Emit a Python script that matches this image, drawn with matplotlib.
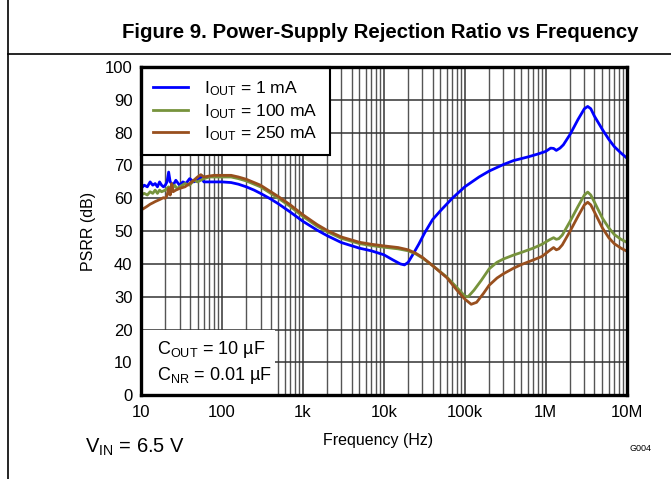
import matplotlib
matplotlib.use('Agg')
import matplotlib.pyplot as plt
from matplotlib.lines import Line2D
from matplotlib.patches import Rectangle

plt.rcParams['font.family'] = ['Liberation Sans', 'DejaVu Sans']
plt.rcParams['mathtext.fontset'] = 'custom'
plt.rcParams['mathtext.rm'] = 'Liberation Sans'
plt.rcParams['mathtext.it'] = 'Liberation Sans:italic'

# ---- data ----
f_1mA = [10, 11, 12, 13, 14, 15, 16, 17, 18, 19, 20, 21, 22, 23, 25, 27, 30, 33, 36, 40,
         45, 50, 55, 60, 70, 80, 100, 130, 160, 200, 250, 300, 400, 500, 700, 1e3, 1.5e3,
         2e3, 3e3, 5e3, 7e3, 1e4, 1.3e4, 1.6e4, 1.8e4, 2e4, 2.3e4, 2.7e4, 3.2e4, 4e4, 5e4,
         7e4, 1e5, 1.5e5, 2e5, 3e5, 4e5, 6e5, 8e5, 1e6, 1.15e6, 1.25e6, 1.35e6, 1.5e6,
         1.65e6, 2e6, 2.5e6, 3e6, 3.3e6, 3.6e6, 4e6, 5e6, 6e6, 7e6, 8.5e6, 1e7]
psrr_1mA = [63, 64, 63.5, 65, 64, 64.5, 63.5, 65, 64, 63.5, 64, 65, 68, 65, 64, 65.5, 64,
            65, 64.5, 66, 65, 65.5, 66.5, 65, 65, 65, 65, 64.8, 64.3, 63.5, 62.5, 61.5, 59.8,
            58.3, 55.8, 53, 50.3, 48.6, 46.5, 44.8, 44, 42.8, 41.2, 40, 39.7, 40.5, 43, 46,
            49.5, 53.5, 56.2, 60, 63.5, 66.5, 68.3, 70.3, 71.5, 72.6, 73.5, 74.3, 75.3, 75.2,
            74.6, 75.3, 76.3, 79.5, 84, 87.3, 88, 87.3, 85, 81, 78, 75.8, 73.8, 72.3]

f_100mA = [10, 11, 12, 13, 14, 15, 16, 17, 18, 20, 22, 24, 26, 28, 30, 35, 40, 45, 50, 60,
           70, 80, 100, 130, 160, 200, 300, 500, 700, 1e3, 1.5e3, 2e3, 3e3, 5e3, 7e3, 1e4,
           1.5e4, 2e4, 2.5e4, 3e4, 4e4, 6e4, 8e4, 1e5, 1.1e5, 1.3e5, 1.6e5, 2e5, 2.5e5, 3e5,
           4e5, 5e5, 7e5, 9e5, 1.1e6, 1.25e6, 1.35e6, 1.45e6, 1.6e6, 2e6, 2.5e6, 3e6, 3.3e6,
           3.6e6, 4e6, 5e6, 6e6, 7e6, 8.5e6, 1e7]
psrr_100mA = [61, 61.5, 61, 62, 61.5, 62.5, 61.5, 62.5, 62, 62.5, 63.5, 62.5, 64, 63, 63.5,
              64.5, 64, 65.5, 65, 66, 66.5, 66.5, 66.5, 66.5, 66, 65.3, 63.5, 60, 57.5, 54.5,
              51.5, 49.8, 47.8, 46.2, 45.6, 45.1, 44.6, 44, 43, 41.8, 39.5, 36, 32.8, 30.2,
              30, 32, 35, 38.5, 40.5, 41.5, 42.7, 43.5, 44.8, 46, 47.3, 48, 47.5, 47.7, 48.8,
              53, 57.5, 61, 61.9, 61, 58.8, 54, 51, 49, 47.5, 46.6]

f_250mA = [10, 11, 12, 13, 14, 15, 17, 19, 20, 21, 22, 23, 24, 25, 27, 30, 35, 40, 45, 50,
           55, 60, 70, 80, 100, 130, 160, 200, 300, 500, 700, 1e3, 1.5e3, 2e3, 3e3, 5e3, 7e3,
           1e4, 1.5e4, 2e4, 2.5e4, 3e4, 4e4, 6e4, 8e4, 1e5, 1.2e5, 1.4e5, 1.7e5, 2e5, 2.5e5,
           3e5, 4e5, 5e5, 7e5, 9e5, 1.1e6, 1.25e6, 1.35e6, 1.45e6, 1.6e6, 2e6, 2.5e6, 3e6,
           3.3e6, 3.6e6, 4e6, 5e6, 6e6, 7e6, 8.5e6, 1e7]
psrr_250mA = [56.4, 57, 57.6, 58.2, 58.6, 59, 59.6, 60.2, 60, 60.8, 63, 61, 64.5, 62, 62.5,
              63, 63.5, 64.5, 65.5, 66.5, 67.2, 66.5, 66.8, 67, 67, 67, 66.5, 65.8, 64, 60.5,
              58, 55, 52, 50.2, 48.2, 46.6, 46, 45.5, 45, 44.3, 43.2, 42, 39.5, 35.8, 32,
              29.3, 27.7, 28.3, 31, 33.5, 35.7, 37, 38.7, 39.8, 41.2, 42.3, 44, 45, 44.3,
              44.6, 45.8, 50, 54.5, 58, 58.8, 58, 55.8, 51, 48, 46.2, 44.8, 43.9]

labels = [r'I$_{\mathrm{OUT}}$ = 1 mA', r'I$_{\mathrm{OUT}}$ = 100 mA', r'I$_{\mathrm{OUT}}$ = 250 mA']
colors = ['#0000FF', '#77933C', '#984F1E']

xticks = [10, 100, 1e3, 1e4, 1e5, 1e6, 1e7]
xticklabels = ['10', '100', '1k', '10k', '100k', '1M', '10M']
yticks = list(range(0, 101, 10))

##############################
fig = plt.figure(figsize=(6.71, 4.79), dpi=100)
ax = fig.add_axes([0.210, 0.175, 0.724, 0.685])

ax.plot(f_1mA, psrr_1mA, color=colors[0], lw=2.0, label=labels[0], zorder=3)
ax.plot(f_100mA, psrr_100mA, color=colors[1], lw=2.0, label=labels[1], zorder=3)
ax.plot(f_250mA, psrr_250mA, color=colors[2], lw=2.0, label=labels[2], zorder=3)

ax.set_xscale('log')
ax.set_xlim(10, 1e7)
ax.set_ylim(0, 100)
ax.set_xticks(xticks)
ax.set_xticklabels(xticklabels)
ax.set_yticks(yticks)
ax.tick_params(which='both', length=0, labelsize=12)
ax.tick_params(axis='x', pad=7)
ax.tick_params(axis='y', pad=6)
ax.grid(which='major', color='#333333', lw=1.1)
ax.grid(which='minor', axis='x', color='#555555', lw=1.0)
for s in ax.spines.values():
    s.set_linewidth(2.4)
    s.set_zorder(6)

ax.set_xlabel('Frequency (Hz)', fontsize=11.5)
ax.xaxis.set_label_coords(0.488, -0.115)
ax.set_ylabel('PSRR (dB)', fontsize=11.5, labelpad=6)

leg = ax.legend(loc='upper left', fontsize=12.6, fancybox=False, framealpha=1,
                edgecolor='black', borderaxespad=0, handlelength=2.0,
                labelspacing=0.22, borderpad=0.7, handletextpad=0.9)
leg.get_frame().set_linewidth(1.5)
leg.set_zorder(5)

# white patch behind the capacitor note
ax.add_patch(Rectangle((10, 0), 440, 20, facecolor='white', edgecolor='none', zorder=2.5))
ax.text(0.033, 0.10, 'C$_{\\mathrm{OUT}}$ = 10 \u00b5F\nC$_{\\mathrm{NR}}$ = 0.01 \u00b5F',
        transform=ax.transAxes, fontsize=13, va='center', ha='left', zorder=5,
        linespacing=1.3)

fig.text(0.566, 0.933, 'Figure 9. Power-Supply Rejection Ratio vs Frequency',
         ha='center', va='center', fontsize=14.7, fontweight='bold')
fig.text(0.127, 0.066, 'V$_{\\mathrm{IN}}$ = 6.5 V', ha='left', va='center', fontsize=14.5)
fig.text(0.954, 0.063, 'G004', ha='center', va='center', fontsize=6.5)

fig.add_artist(Line2D([0.012, 0.012], [0, 1], color='black', lw=1.2, transform=fig.transFigure))
fig.add_artist(Line2D([0.012, 1], [0.887, 0.887], color='black', lw=1.2, transform=fig.transFigure))

fig.savefig('out.png', dpi=100)
